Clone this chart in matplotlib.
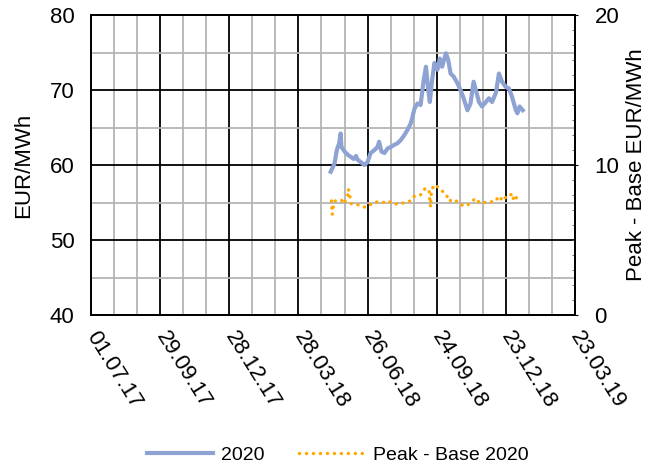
import numpy as np
import pandas as pd
import matplotlib
matplotlib.use("Agg")
import matplotlib.pyplot as plt
import matplotlib.dates as mdates
from matplotlib.ticker import FixedLocator, MultipleLocator

plt.rcParams['font.family'] = ['Liberation Sans', 'DejaVu Sans']

# Jahr 2020 (Base), EUR/MWh
base_dates = ["2018-05-09", "2018-05-14", "2018-05-17", "2018-05-20", "2018-05-22",
              "2018-05-23", "2018-05-27", "2018-06-01", "2018-06-04", "2018-06-08",
              "2018-06-11", "2018-06-13", "2018-06-17", "2018-06-22", "2018-06-26",
              "2018-06-30", "2018-07-05", "2018-07-09", "2018-07-11", "2018-07-14",
              "2018-07-18", "2018-07-22", "2018-07-26", "2018-07-31", "2018-08-04",
              "2018-08-08", "2018-08-13", "2018-08-17", "2018-08-21", "2018-08-23",
              "2018-08-26", "2018-08-30", "2018-09-03", "2018-09-07", "2018-09-10",
              "2018-09-13", "2018-09-15", "2018-09-18", "2018-09-21", "2018-09-25",
              "2018-09-28", "2018-10-01", "2018-10-06", "2018-10-09", "2018-10-12",
              "2018-10-16", "2018-10-21", "2018-10-25", "2018-10-29", "2018-11-03",
              "2018-11-07", "2018-11-11", "2018-11-15", "2018-11-18", "2018-11-22",
              "2018-11-27", "2018-12-01", "2018-12-05", "2018-12-10", "2018-12-14",
              "2018-12-18", "2018-12-23", "2018-12-27", "2018-12-31", "2019-01-05",
              "2019-01-07", "2019-01-10", "2019-01-14"]
base_2020 = [59.1, 60.2, 62.0, 62.9, 64.2, 62.4, 61.8, 61.3, 61.1, 60.8,
             61.2, 60.7, 60.4, 60.0, 60.4, 61.6, 62.0, 62.4, 63.1, 61.8,
             61.6, 62.2, 62.4, 62.7, 62.9, 63.3, 64.0, 64.7, 65.5, 66.2,
             67.5, 68.2, 68.0, 71.3, 73.1, 70.0, 68.4, 71.3, 73.6, 72.7,
             74.2, 73.1, 74.9, 74.0, 72.2, 71.8, 70.9, 70.0, 68.9, 67.3,
             68.2, 71.1, 69.6, 68.4, 67.8, 68.4, 68.9, 68.4, 69.6, 72.2,
             71.1, 70.4, 70.2, 69.1, 67.3, 66.9, 67.8, 67.3]

# Peak - Base 2020, EUR/MWh
spread_dates = ["2018-05-10", "2018-05-11", "2018-05-12", "2018-05-14", "2018-05-16",
                "2018-05-23", "2018-05-26", "2018-05-31", "2018-06-01", "2018-06-05",
                "2018-06-09", "2018-06-15", "2018-06-20", "2018-06-26", "2018-07-03",
                "2018-07-11", "2018-07-18", "2018-07-24", "2018-07-28", "2018-08-08",
                "2018-08-15", "2018-08-21", "2018-08-25", "2018-09-01", "2018-09-05",
                "2018-09-09", "2018-09-14", "2018-09-15", "2018-09-16", "2018-09-17",
                "2018-09-20", "2018-09-24", "2018-09-29", "2018-10-03", "2018-10-07",
                "2018-10-09", "2018-10-15", "2018-10-18", "2018-10-21", "2018-10-27",
                "2018-11-02", "2018-11-08", "2018-11-14", "2018-11-19", "2018-11-26",
                "2018-12-02", "2018-12-09", "2018-12-14", "2018-12-19", "2018-12-25",
                "2018-12-29", "2019-01-01", "2019-01-02", "2019-01-07", "2019-01-11"]
spread_2020 = [7.6, 6.7, 7.1, 7.6, 7.6, 7.67, 7.4, 7.9, 8.4, 7.4,
               7.4, 7.33, 7.2, 7.2, 7.5, 7.55, 7.5, 7.6, 7.4, 7.4,
               7.55, 7.6, 7.9, 7.93, 8.1, 8.45, 8.33, 7.67, 7.2, 8.15,
               8.67, 8.6, 8.33, 8.2, 8.0, 7.6, 7.67, 7.7, 7.5, 7.33,
               7.27, 7.55, 7.78, 7.45, 7.5, 7.55, 7.55, 7.93, 7.6, 8.0,
               8.0, 8.1, 7.6, 7.9, 7.78]

x_start = mdates.date2num(pd.Timestamp("2017-07-01"))
x_end = mdates.date2num(pd.Timestamp("2019-03-23"))

fig = plt.figure(figsize=(6.52, 4.67), dpi=100)
ax = fig.add_axes([91 / 652, 1 - 315 / 467, (575 - 91) / 652, 300 / 467])
ax2 = ax.twinx()

ax.set_xlim(x_start, x_end)
ax.set_ylim(40, 80)
ax2.set_ylim(0, 20)

ax.xaxis.set_major_locator(FixedLocator(np.arange(x_start, x_end + 1, 90)))
ax.xaxis.set_minor_locator(FixedLocator(np.arange(x_start, x_end + 1, 30)))
ax.xaxis.set_major_formatter(mdates.DateFormatter('%d.%m.%y'))
ax.yaxis.set_major_locator(MultipleLocator(10))
ax.yaxis.set_minor_locator(MultipleLocator(5))
ax2.yaxis.set_major_locator(MultipleLocator(10))
ax2.yaxis.set_minor_locator(MultipleLocator(1))

ax.grid(which='minor', color='#b4b4b4', linewidth=1.3, zorder=0)
ax.grid(which='major', color='black', linewidth=1.3, zorder=0)
ax.set_axisbelow(True)

ax.tick_params(which='both', length=0, labelsize=16)
ax.tick_params(axis='y', pad=12)
ax.tick_params(axis='x', pad=13)
ax2.tick_params(which='major', length=2, labelsize=16, pad=12, direction='out')
ax2.tick_params(which='minor', length=2, direction='in', color='#555555')
for lbl in ax.get_xticklabels():
    lbl.set_rotation(-58)
    lbl.set_ha('left')
    lbl.set_va('center')
    lbl.set_rotation_mode('anchor')

for sp in list(ax.spines.values()) + list(ax2.spines.values()):
    sp.set_linewidth(1.3)
    sp.set_color('black')

l1, = ax.plot(pd.to_datetime(base_dates), base_2020, color='#8fa2d4', linewidth=3.0,
              label='2020', solid_joinstyle='round', zorder=3)
l2, = ax2.plot(pd.to_datetime(spread_dates), spread_2020, color='#ffa800', linewidth=2.5,
               linestyle=(0, (0.01, 2.0)), dash_capstyle='round', label='Peak - Base 2020')

ax.set_ylabel('EUR/MWh', fontsize=16, labelpad=11)
ax2.set_ylabel('Peak - Base EUR/MWh', fontsize=16, labelpad=5)

fig.legend(handles=[l1, l2], loc='lower center', bbox_to_anchor=(0.518, -0.03), ncol=2,
           frameon=False, fontsize=14, handlelength=3.4, handletextpad=0.4,
           columnspacing=1.8)

fig.savefig('out.png', dpi=100)
